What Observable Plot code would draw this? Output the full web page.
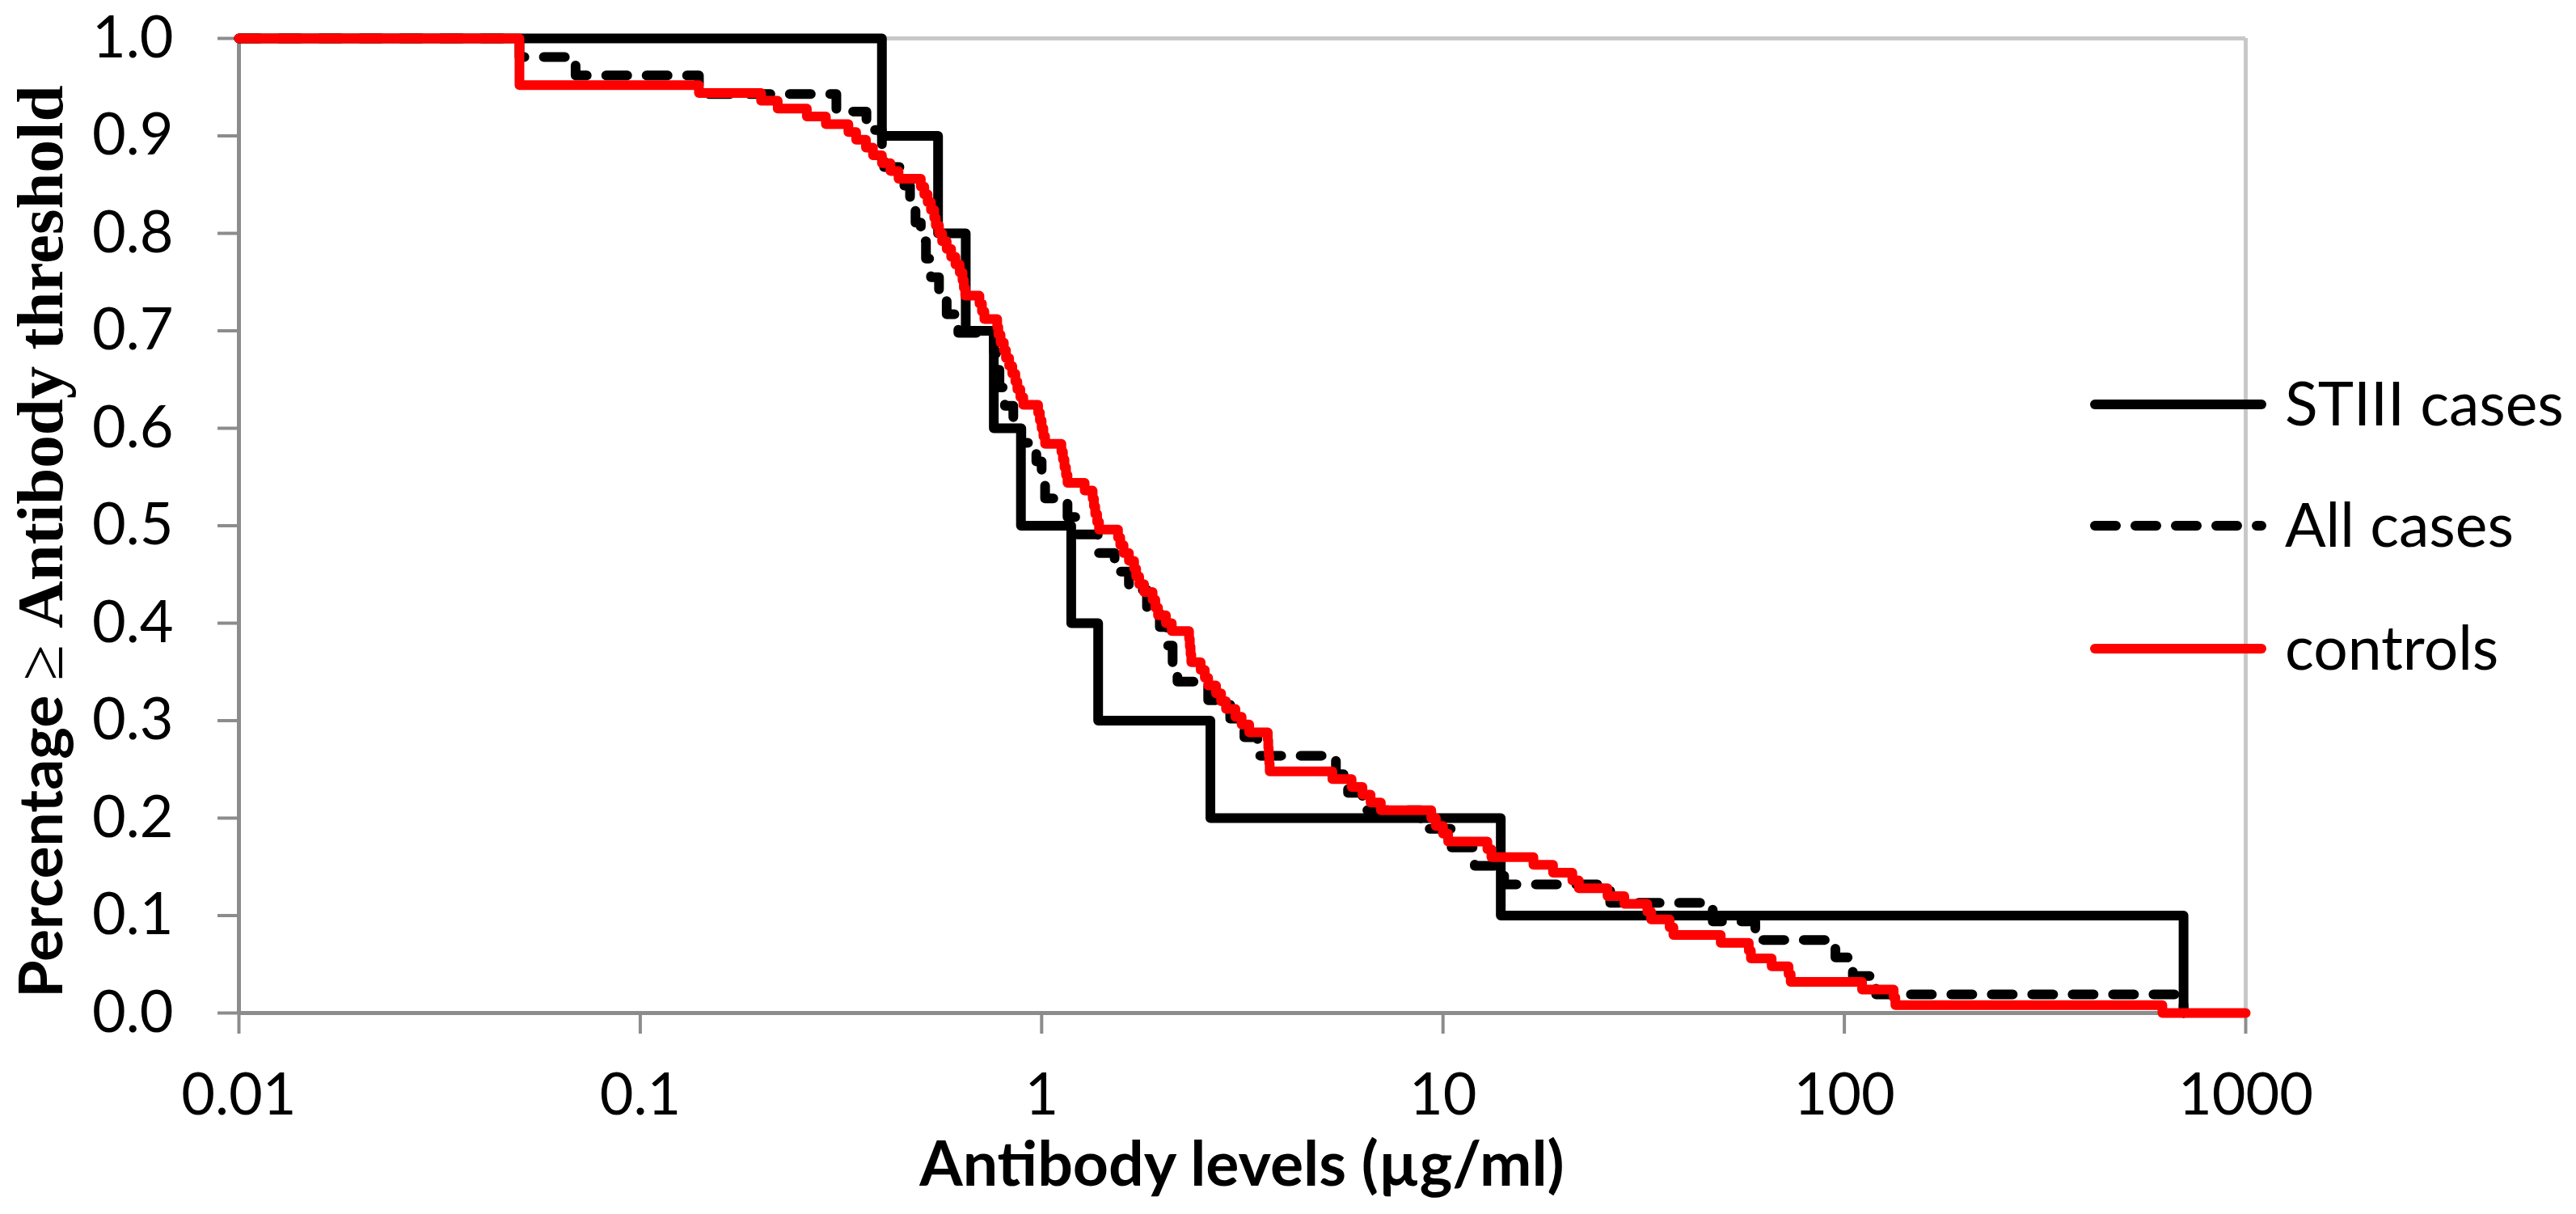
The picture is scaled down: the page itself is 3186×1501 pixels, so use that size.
<!DOCTYPE html>
<html>
<head>
<meta charset="utf-8">
<script src="https://cdn.jsdelivr.net/npm/d3@7"></script>
<script src="https://cdn.jsdelivr.net/npm/@observablehq/plot@0.6"></script>
<style>
  html, body { margin: 0; padding: 0; background: #ffffff; }
  #chart { position: relative; width: 3186px; height: 1501px; overflow: hidden; }
</style>
</head>
<body>
<div id="chart"></div>
<script>
// ---------------- data ----------------
const seriesNames = ["STIII cases", "All cases", "controls"];

const xTicks = [0.01, 0.1, 1, 10, 100, 1000];
const xTickLabels = ["0.01", "0.1", "1", "10", "100", "1000"];
const yTicks = [0, 0.1, 0.2, 0.3, 0.4, 0.5, 0.6, 0.7, 0.8, 0.9, 1.0];
const yTickLabels = ["0.0", "0.1", "0.2", "0.3", "0.4", "0.5", "0.6", "0.7", "0.8", "0.9", "1.0"];

// STIII cases (step points: value holds from x until the next x)
const stiiiX = [0.01, 0.40, 0.552, 0.647, 0.76, 0.888, 1.185, 1.383, 2.633, 13.93, 700];
const stiiiY = [1.0, 0.9, 0.8, 0.7, 0.6, 0.5, 0.4, 0.3, 0.2, 0.1, 0.0];

// All cases
const allX = [0.01, 0.05, 0.069, 0.14, 0.308, 0.366, 0.40, 0.405, 0.455, 0.47,
  0.485, 0.50, 0.515, 0.53, 0.555, 0.58, 0.62, 0.76, 0.77, 0.785,
  0.81, 0.85, 0.89, 0.97, 1.0, 1.02, 1.16, 1.22, 1.38, 1.52,
  1.65, 1.83, 1.97, 2.05, 2.12, 2.18, 2.6, 2.95, 3.2, 3.45,
  5.41, 5.8, 6.3, 8.8, 10.5, 12.0, 14.2, 26.1, 47.0, 60,
  95, 105, 120, 700];
const allY = [1.000, 0.981, 0.962, 0.943, 0.925, 0.906, 0.887, 0.868, 0.849, 0.830,
  0.811, 0.792, 0.774, 0.755, 0.736, 0.717, 0.698, 0.679, 0.660, 0.642,
  0.623, 0.604, 0.585, 0.566, 0.547, 0.528, 0.509, 0.491, 0.472, 0.453,
  0.434, 0.415, 0.396, 0.377, 0.358, 0.340, 0.321, 0.302, 0.283, 0.264,
  0.245, 0.226, 0.208, 0.189, 0.170, 0.151, 0.132, 0.113, 0.094, 0.075,
  0.057, 0.038, 0.019, 0.000];

// controls
const ctrlX = [0.01, 0.05, 0.14, 0.20, 0.22, 0.26, 0.29, 0.33, 0.345, 0.365,
  0.38, 0.40, 0.42, 0.44, 0.50, 0.51, 0.52, 0.53, 0.54, 0.545,
  0.555, 0.565, 0.58, 0.595, 0.61, 0.625, 0.635, 0.64, 0.645, 0.70,
  0.71, 0.72, 0.775, 0.78, 0.79, 0.805, 0.815, 0.83, 0.845, 0.86,
  0.87, 0.885, 0.90, 0.98, 0.99, 1.00, 1.01, 1.02, 1.12, 1.13,
  1.14, 1.15, 1.16, 1.28, 1.34, 1.35, 1.36, 1.375, 1.39, 1.55,
  1.57, 1.60, 1.65, 1.70, 1.72, 1.75, 1.80, 1.89, 1.92, 1.95,
  2.04, 2.11, 2.33, 2.34, 2.35, 2.36, 2.49, 2.55, 2.60, 2.72,
  2.80, 2.88, 3.04, 3.15, 3.29, 3.66, 3.67, 3.68, 3.69, 3.70,
  5.30, 5.92, 6.3, 6.6, 7.0, 9.35, 9.6, 10.0, 10.3, 12.9,
  13.2, 16.8, 18.8, 21.0, 21.8, 25.7, 28.3, 32.3, 33.0, 36.7,
  37.5, 49.2, 57.8, 58.5, 65.9, 72.6, 73.5, 110.7, 132.7, 134,
  620, 1000];
const ctrlY = [1.000, 0.952, 0.944, 0.936, 0.928, 0.920, 0.912, 0.904, 0.896, 0.888,
  0.880, 0.872, 0.864, 0.856, 0.848, 0.840, 0.832, 0.824, 0.816, 0.808,
  0.800, 0.792, 0.784, 0.776, 0.768, 0.760, 0.752, 0.744, 0.736, 0.728,
  0.720, 0.712, 0.704, 0.696, 0.688, 0.680, 0.672, 0.664, 0.656, 0.648,
  0.640, 0.632, 0.624, 0.616, 0.608, 0.600, 0.592, 0.584, 0.576, 0.568,
  0.560, 0.552, 0.544, 0.536, 0.528, 0.520, 0.512, 0.504, 0.496, 0.488,
  0.480, 0.472, 0.464, 0.456, 0.448, 0.440, 0.432, 0.424, 0.416, 0.408,
  0.400, 0.392, 0.384, 0.376, 0.368, 0.360, 0.352, 0.344, 0.336, 0.328,
  0.320, 0.312, 0.304, 0.296, 0.288, 0.280, 0.272, 0.264, 0.256, 0.248,
  0.240, 0.232, 0.224, 0.216, 0.208, 0.200, 0.192, 0.184, 0.176, 0.168,
  0.160, 0.152, 0.144, 0.136, 0.128, 0.120, 0.112, 0.104, 0.096, 0.088,
  0.080, 0.072, 0.064, 0.056, 0.048, 0.040, 0.032, 0.024, 0.016, 0.008,
  0.000, 0.000];

const xTitle = "Antibody levels (µg/ml)";
const yTitleParts = ["Percentage ", "≥ ", "Antibody threshold"];

// ---------------- build ----------------
const toRows = (xs, ys, name) => xs.map((x, i) => ({x, y: ys[i], series: name}));
const stiii = toRows(stiiiX, stiiiY, seriesNames[0]);
const allCases = toRows(allX, allY, seriesNames[1]);
const controls = toRows(ctrlX, ctrlY, seriesNames[2]);

const W = 3186, H = 1501;
const mL = 295, mR = 409, mT = 47, mB = 249;
const axisGray = "#8c8c8c";
const frameGray = "#c8c8c8";
const LW = 12;
const dash = "26,24";

const styles = [
  {stroke: "#000000", dash: null},
  {stroke: "#000000", dash: dash},
  {stroke: "#ff0000", dash: null}
];

const plot = Plot.plot({
  width: W, height: H,
  marginLeft: mL, marginRight: mR, marginTop: mT, marginBottom: mB,
  style: {fontFamily: "Lato, sans-serif", background: "#ffffff", color: "#000000"},
  x: {type: "log", domain: [0.01, 1000]},
  y: {domain: [0, 1]},
  marks: [
    Plot.ruleY([1], {stroke: frameGray, strokeWidth: 5}),
    Plot.ruleX([1000], {stroke: frameGray, strokeWidth: 5}),
    Plot.axisX({ticks: xTicks, tickFormat: d => xTickLabels[xTicks.indexOf(d)], tickSize: 26, tickPadding: 48,
      stroke: axisGray, strokeWidth: 4, fill: "#000000", fontSize: 72, label: null}),
    Plot.axisY({ticks: yTicks, tickFormat: d => yTickLabels[yTicks.indexOf(d)], tickSize: 26, tickPadding: 55,
      stroke: axisGray, strokeWidth: 4, fill: "#000000", fontSize: 72, label: null}),
    Plot.ruleX([0.01], {stroke: axisGray, strokeWidth: 5}),
    Plot.ruleY([0], {stroke: axisGray, strokeWidth: 5}),
    Plot.line(stiii, {x: "x", y: "y", curve: "step-after", stroke: styles[0].stroke, strokeWidth: LW,
      strokeLinejoin: "round", strokeLinecap: "round"}),
    Plot.line(allCases, {x: "x", y: "y", curve: "step-after", stroke: styles[1].stroke, strokeWidth: LW,
      strokeDasharray: dash, strokeLinejoin: "round", strokeLinecap: "round"}),
    Plot.line(controls, {x: "x", y: "y", curve: "step-after", stroke: styles[2].stroke, strokeWidth: LW,
      strokeLinejoin: "round", strokeLinecap: "round"})
  ]
});

document.getElementById("chart").appendChild(plot);

// ---------------- titles & legend ----------------
const svg = d3.select(plot);
const cx = mL + (W - mL - mR) / 2;
const cy = mT + (H - mT - mB) / 2;

svg.append("text")
  .attr("x", cx).attr("y", 1466)
  .attr("text-anchor", "middle")
  .attr("font-family", "Lato, sans-serif").attr("font-weight", "bold").attr("font-size", 77)
  .attr("fill", "#000000")
  .text(xTitle);

const yt = svg.append("text")
  .attr("transform", `translate(77,${cy + 20}) rotate(-90)`)
  .attr("text-anchor", "middle")
  .attr("fill", "#000000");
yt.append("tspan").attr("font-family", "Lato, sans-serif").attr("font-weight", "bold").attr("font-size", 75).text(yTitleParts[0]);
yt.append("tspan").attr("font-family", "Liberation Serif, serif").attr("font-weight", "normal").attr("font-size", 81).text(yTitleParts[1]);
yt.append("tspan").attr("font-family", "Liberation Serif, serif").attr("font-weight", "bold").attr("font-size", 81).text(yTitleParts[2]);

const legendRows = [500, 650, 802];
const lg = svg.append("g").attr("text-anchor", "start");
seriesNames.forEach((name, i) => {
  const y = legendRows[i];
  lg.append("line")
    .attr("x1", 2591).attr("x2", 2797).attr("y1", y).attr("y2", y)
    .attr("stroke", styles[i].stroke).attr("stroke-width", LW)
    .attr("stroke-linecap", "round")
    .attr("stroke-dasharray", styles[i].dash);
  lg.append("text")
    .attr("x", 2826).attr("y", y + 26)
    .attr("text-anchor", "start")
    .attr("font-family", "Lato, sans-serif").attr("font-size", 75)
    .attr("fill", "#000000")
    .text(name);
});
</script>
</body>
</html>
